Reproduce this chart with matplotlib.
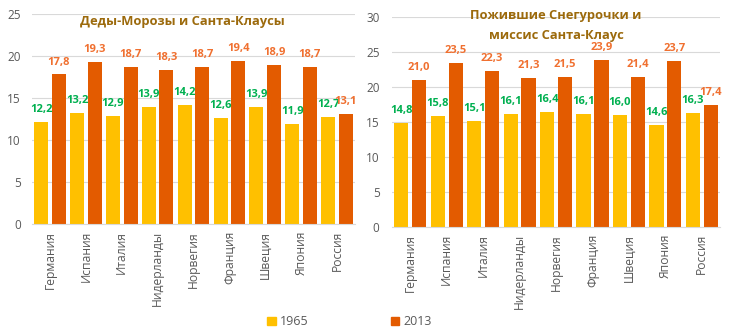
import numpy as np
import matplotlib
matplotlib.use("Agg")
import matplotlib.pyplot as plt
from matplotlib.patches import Patch

plt.rcParams['font.family'] = ['Open Sans', 'DejaVu Sans']

countries = ["Германия", "Испания", "Италия", "Нидерланды", "Норвегия",
             "Франция", "Швеция", "Япония", "Россия"]

men_1965 = [12.2, 13.2, 12.9, 13.9, 14.2, 12.6, 13.9, 11.9, 12.7]
men_2013 = [17.8, 19.3, 18.7, 18.3, 18.7, 19.4, 18.9, 18.7, 13.1]
women_1965 = [14.8, 15.8, 15.1, 16.1, 16.4, 16.1, 16.0, 14.6, 16.3]
women_2013 = [21.0, 23.5, 22.3, 21.3, 21.5, 23.9, 21.4, 23.7, 17.4]

YELLOW = "#FFC000"
ORANGE = "#E35B00"
GREEN = "#00B050"
LBL_ORANGE = "#F07030"
TITLE_C = "#9C6A0C"
GREY = "#595959"


def fmt(v):
    return ("%.1f" % v).replace(".", ",")


def draw_panel(ax, v1, v2, ymax, ypad):
    x = np.arange(len(countries))
    w = 0.39
    b1 = ax.bar(x - 0.245, v1, w, color=YELLOW, zorder=2)
    b2 = ax.bar(x + 0.245, v2, w, color=ORANGE, zorder=2)
    for bars, vals, c in ((b1, v1, GREEN), (b2, v2, LBL_ORANGE)):
        for r, v in zip(bars, vals):
            ax.annotate(fmt(v), (r.get_x() + r.get_width() / 2, v),
                        xytext=(0, 5), textcoords="offset points",
                        ha="center", va="bottom", color=c,
                        fontsize=8, fontweight="bold")
    ax.set_xlim(-0.5, len(countries) - 0.5)
    ax.set_ylim(0, ymax)
    ax.set_yticks(np.arange(0, ymax + 1, 5))
    ax.yaxis.grid(True, color="#D9D9D9", linewidth=0.8, zorder=0)
    ax.set_xticks(x)
    ax.set_xticklabels(countries, rotation=90, fontsize=8.7, color=GREY)
    ax.tick_params(axis="y", labelsize=8.5, labelcolor=GREY, length=0, pad=ypad)
    ax.tick_params(axis="x", length=0, pad=5)
    for s in ("top", "right", "left"):
        ax.spines[s].set_visible(False)
    ax.spines["bottom"].set_color("#D9D9D9")


fig = plt.figure(figsize=(7.37, 3.36), dpi=100)
ax1 = fig.add_axes([0.0434, 0.3333, 0.4383, 0.625])
ax2 = fig.add_axes([0.532, 0.3244, 0.445, 0.6250])

draw_panel(ax1, men_1965, men_2013, 25, 8)
draw_panel(ax2, women_1965, women_2013, 30, 9)

# panel headings
fig.text(0.2475, 1 - 22 / 336, "Деды-Морозы и Санта-Клаусы", ha="center",
         va="center", fontsize=9.3, fontweight="bold", color=TITLE_C)
fig.text(0.7545, 1 - 16 / 336, "Пожившие Снегурочки и", ha="center",
         va="center", fontsize=9.3, fontweight="bold", color=TITLE_C)
fig.text(0.7545, 1 - 35 / 336, "миссис Санта-Клаус", ha="center",
         va="center", fontsize=9.3, fontweight="bold", color=TITLE_C)

handles = [Patch(color=YELLOW, label="1965"), Patch(color=ORANGE, label="2013")]
fig.legend(handles=handles, loc="center", bbox_to_anchor=(0.474, 0.042),
           ncol=2, frameon=False, fontsize=9, handlelength=0.7,
           handleheight=0.7, handletextpad=0.3, columnspacing=6.6,
           labelcolor=GREY)

fig.savefig("out.png", dpi=100)
